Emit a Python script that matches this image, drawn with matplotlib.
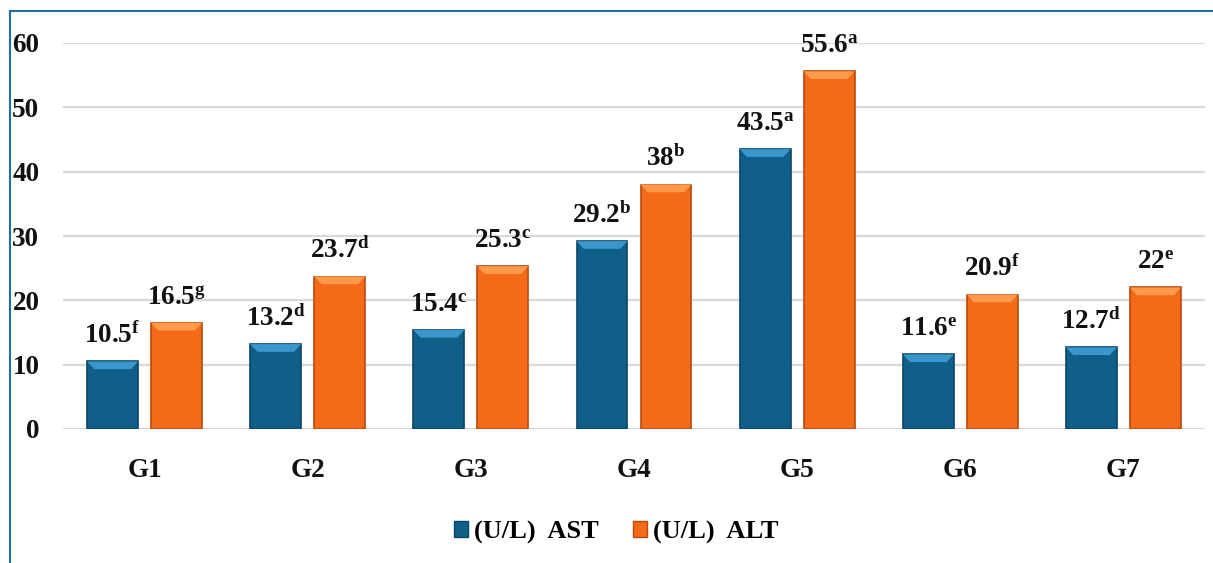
import numpy as np
import matplotlib.pyplot as plt
from matplotlib.patches import Polygon
from matplotlib.lines import Line2D

# ----------------------------
# Data
# ----------------------------
groups = ["G1", "G2", "G3", "G4", "G5", "G6", "G7"]
ast_vals = [10.5, 13.2, 15.4, 29.2, 43.5, 11.6, 12.7]
alt_vals = [16.5, 23.7, 25.3, 38, 55.6, 20.9, 22]
ast_letters = ["f", "d", "c", "b", "a", "e", "d"]
alt_letters = ["g", "d", "c", "b", "a", "f", "e"]
series_names = ["(U/L)  AST", "(U/L)  ALT"]
yticks = [0, 10, 20, 30, 40, 50, 60]

# ----------------------------
# Style
# ----------------------------
plt.rcParams['font.family'] = ['Liberation Serif', 'DejaVu Serif']
plt.rcParams['mathtext.fontset'] = 'custom'
plt.rcParams['mathtext.rm'] = 'Liberation Serif:bold'
plt.rcParams['mathtext.it'] = 'Liberation Serif:bold'
plt.rcParams['mathtext.bf'] = 'Liberation Serif:bold'

blue = dict(body="#0f5f88", top="#3a96cc", edge="#0a4666")
orange = dict(body="#f56a18", top="#ff9a4a", edge="#b84a0c")
fsize = 19.5

fig = plt.figure(figsize=(12.13, 5.63), dpi=100)
ax = fig.add_axes([63 / 1213, 1 - 429 / 563, (1205 - 63) / 1213, (429 - 43) / 563])

x = np.arange(len(groups))
width = 0.312
offset = 0.196
bevel = 1.2  # data units for top bevel


def draw_bars(xpos, vals, pal):
    bars = ax.bar(xpos, vals, width, color=pal["body"], edgecolor=pal["edge"],
                  linewidth=1.2, zorder=3)
    for b in bars:
        x0 = b.get_x()
        w = b.get_width()
        h = b.get_height()
        inset = w * 0.14
        poly = Polygon([(x0, h), (x0 + w, h), (x0 + w - inset, h - bevel),
                        (x0 + inset, h - bevel)], closed=True,
                       facecolor=pal["top"], edgecolor="none", zorder=4)
        ax.add_patch(poly)
    return bars


draw_bars(x - offset, ast_vals, blue)
draw_bars(x + offset, alt_vals, orange)

# value labels with letter superscripts
for xs, vals, letters in [(x - offset, ast_vals, ast_letters),
                          (x + offset, alt_vals, alt_letters)]:
    for xi, v, l in zip(xs, vals, letters):
        ax.annotate(f"{v:g}" + r"$^{\rm " + l + "}$",
                    xy=(xi, v), xytext=(0, 13), textcoords="offset points",
                    ha="center", va="baseline", fontsize=fsize,
                    fontweight="bold", color="#111111", zorder=5,
                    annotation_clip=False)

ax.set_xlim(-0.5, 6.5)
ax.set_ylim(0, 60)
ax.set_yticks(yticks)
ax.set_xticks(x)
ax.set_xticklabels(groups)
ax.tick_params(axis="both", length=0, labelsize=fsize)
ax.tick_params(axis="y", pad=17)
ax.tick_params(axis="x", pad=21)
for lab in ax.get_xticklabels() + ax.get_yticklabels():
    lab.set_fontweight("bold")
    lab.set_color("#111111")

ax.grid(axis="y", color="#d9d9d9", linewidth=1.6, zorder=0)
ax.set_axisbelow(True)
for s in ax.spines.values():
    s.set_visible(False)

# legend
handles = [plt.Rectangle((0, 0), 1, 1, facecolor=blue["body"], edgecolor=blue["edge"]),
           plt.Rectangle((0, 0), 1, 1, facecolor=orange["body"], edgecolor=orange["edge"])]
leg = fig.legend(handles, series_names, loc="center", bbox_to_anchor=(616 / 1213, 1 - 532 / 563),
                 ncol=2, frameon=False, handlelength=0.55, handleheight=0.55,
                 handletextpad=0.2, columnspacing=1.3,
                 prop=dict(size=19, weight="bold"))

# blue frame lines (top and left)
fig.add_artist(Line2D([10 / 1213, 1], [1 - 10.5 / 563, 1 - 10.5 / 563],
                      color="#1f6ea8", linewidth=1.5, transform=fig.transFigure))
fig.add_artist(Line2D([10 / 1213, 10 / 1213], [0, 1 - 10.5 / 563],
                      color="#1f6ea8", linewidth=1.5, transform=fig.transFigure))

fig.savefig("out.png", dpi=100)
